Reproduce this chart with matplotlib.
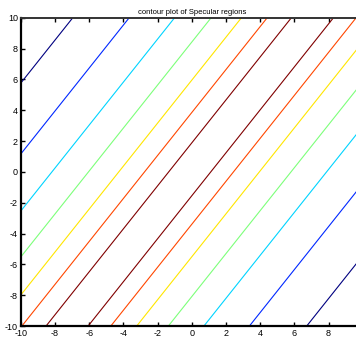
import numpy as np
import matplotlib
matplotlib.use("Agg")
import matplotlib.pyplot as plt
from matplotlib.colors import to_hex

plt.rcParams['font.family'] = ['Liberation Sans', 'DejaVu Sans']
plt.rcParams['axes.unicode_minus'] = False
plt.rcParams['contour.negative_linestyle'] = 'solid'

title = "contour plot of Specular regions"
slope = 1.394
# contour levels of (y - slope*x)
levels = [-19.37, -14.70, -10.99, -8.09, -5.51, -3.40, -1.55,
          1.88, 3.85, 5.95, 8.42, 11.4, 15.1, 19.7]
# position of each level in the jet colour map
color_pos = [0, 1/6, 2/6, 3/6, 4/6, 5/6, 1.0, 1.0, 5/6, 4/6, 3/6, 2/6, 1/6, 0]
xticks = [-10, -8, -6, -4, -2, 0, 2, 4, 6, 8]
yticks = [-10, -8, -6, -4, -2, 0, 2, 4, 6, 8, 10]

fig = plt.figure(figsize=(3.56, 3.41), dpi=100)
ax = fig.add_axes([20.8/356, 15/341, 342/356, 308.3/341])

xs = np.linspace(-10, 10, 201)
X, Y = np.meshgrid(xs, xs)
Z = Y - slope * X
cmap = plt.get_cmap('jet')
colors = [to_hex(cmap(p)) for p in color_pos]
ax.contour(X, Y, Z, levels=levels, colors=colors, linewidths=0.8,
           linestyles='solid')

ax.set_xlim(-10, 10)
ax.set_ylim(-10, 10)
ax.set_xticks(xticks)
ax.set_yticks(yticks)
ax.tick_params(direction='in', length=3, width=1, labelsize=6.5,
               top=True, right=True, pad=2, colors='black')
for s in ['left', 'bottom']:
    ax.spines[s].set_linewidth(1.6)
    ax.spines[s].set_color('black')
ax.spines['top'].set_linewidth(1.4)
ax.spines['top'].set_color('#333333')
ax.set_title(title, fontsize=5.5, pad=3)

fig.savefig("out.png", dpi=100)
